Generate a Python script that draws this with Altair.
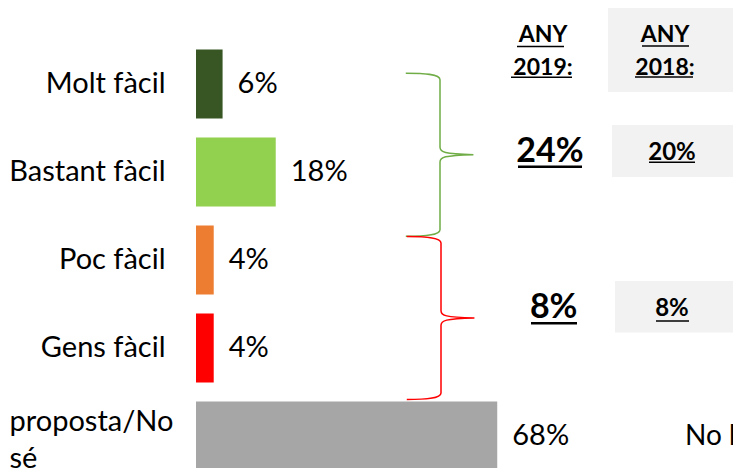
import altair as alt
import pandas as pd

# ---- data ----
categories = ["Molt fàcil", "Bastant fàcil", "Poc fàcil", "Gens fàcil", "proposta/No sé"]
values = [6, 18, 4, 4, 68]
colors = ["#375623", "#92D050", "#ED7D31", "#FF0000", "#A6A6A6"]

year_headers = ["ANY 2019:", "ANY 2018:"]
pct_2019 = [24, 8]       # fàcil (Molt+Bastant), difícil (Poc+Gens)
pct_2018 = [20, 8]
no_data_text = "No hi ha dades"

FONT = "Lato"
NS = categories[-1]

df = pd.DataFrame({"cat": categories, "val": values,
                   "label": [f"{v}%" for v in values]})

is_ns = f"datum.value == '{NS}'"
y_enc = alt.Y("cat:N", sort=categories,
              scale=alt.Scale(paddingInner=0.216, paddingOuter=0.108, range=[0, 440]),
              axis=alt.Axis(title=None, domain=False, ticks=False, tickSize=0,
                            labelFont=FONT, labelFontSize=29, labelColor="black",
                            labelLimit=500, labelBaseline="middle",
                            labelLineHeight=37,
                            labelExpr=f"datum.label == '{NS}' ? ['proposta/No', 'sé'] : datum.label",
                            labelAlign={"condition": {"test": is_ns, "value": "left"}, "value": "right"},
                            labelOffset={"condition": {"test": is_ns, "value": -14}, "value": 0},
                            labelPadding={"condition": {"test": is_ns, "value": 187}, "value": 31}))
x_enc = alt.X("val:Q", scale=alt.Scale(domain=[0, 100]), axis=None)

bars = alt.Chart(df).mark_bar().encode(
    x=x_enc, y=y_enc,
    color=alt.Color("cat:N", scale=alt.Scale(domain=categories, range=colors), legend=None),
)
vlabels = alt.Chart(df).mark_text(align="left", baseline="middle", dx=15,
                                  font=FONT, fontSize=29, color="black").encode(
    x=x_enc, y=alt.Y("cat:N", sort=categories), text="label:N")

BRACE = ("M -0.42 -1 C -0.2 -1 0 -0.99 0 -0.92 L 0 -0.09 "
         "C 0 -0.03 0.05 -0.01 0.41 0 C 0.05 0.01 0 0.03 0 0.09 "
         "L 0 0.92 C 0 0.99 -0.2 1 -0.42 1")

one = pd.DataFrame({"k": [0]})


def brace(x, y, color):
    return alt.Chart(one).mark_point(shape=BRACE, size=26569, filled=False,
                                     strokeWidth=1.5, opacity=1, color=color).encode(
        x=alt.value(x), y=alt.value(y))


def box(x1, x2, y1, y2):
    return alt.Chart(one).mark_rect(color="#F2F2F2").encode(
        x=alt.value(x1), x2=alt.value(x2), y=alt.value(y1), y2=alt.value(y2))


def text(s, x, y, size, bold=True, align="center", linebreak=None):
    kw = dict(align=align, baseline="alphabetic", font=FONT, fontSize=size,
              fontWeight="bold" if bold else "normal", color="black")
    if linebreak:
        kw.update(lineBreak=linebreak, lineHeight=33)
    return alt.Chart(pd.DataFrame({"t": [s]})).mark_text(**kw).encode(
        x=alt.value(x), y=alt.value(y), text="t:N")


def uline(x1, x2, y, w):
    return alt.Chart(one).mark_rule(color="black", strokeWidth=w).encode(
        x=alt.value(x1), x2=alt.value(x2), y=alt.value(y))


layers = [
    box(412, 537, -32, 52), box(416, 537, 85, 137), box(419, 537, 241, 292.5),
    bars, vlabels,
    brace(244, 114.7, "#70AD47"), brace(245, 278, "#FF0000"),
    text(year_headers[0], 347, 1.7, 23, linebreak=" "),
    text(year_headers[1], 469, 1.7, 23, linebreak=" "),
    uline(321, 368, 6.5, 1.5), uline(315, 376, 37.3, 1.5),
    uline(446, 493, 6, 1.5), uline(439, 497, 37, 1.5),
    text(f"{pct_2019[0]}%", 354, 121.7, 34), uline(322, 386, 126.7, 2.5),
    text(f"{pct_2018[0]}%", 476, 120, 24), uline(453, 499, 122.3, 1.5),
    text(f"{pct_2019[1]}%", 357.7, 278.3, 34), uline(335, 381, 283.3, 2.5),
    text(f"{pct_2018[1]}%", 476, 276, 24), uline(460, 493, 281, 1.5),
    text(no_data_text, 489, 405, 28, bold=False, align="left"),
]

chart = alt.layer(*layers).properties(
    width=443, height=428,
    padding={"left": 188, "top": 32, "right": 94, "bottom": 0},
    autosize=alt.AutoSizeParams(type="none"),
    background="white",
).configure_view(stroke=None)

chart.save("out.html", embed_options={"renderer": "svg", "actions": False})
